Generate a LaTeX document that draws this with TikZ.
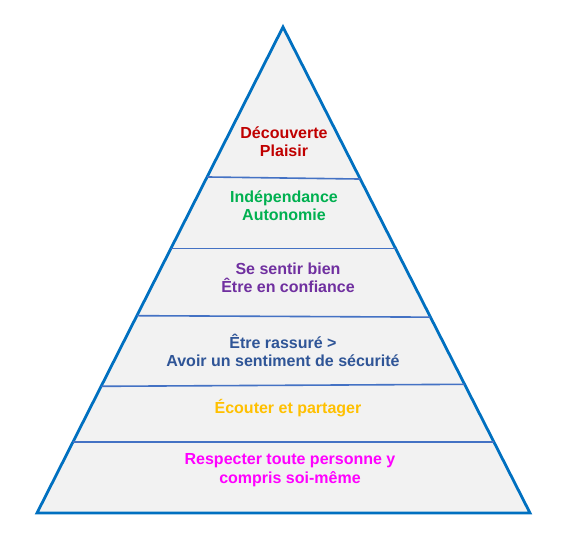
\documentclass[tikz,border=0pt]{standalone}
\usepackage{fontspec}
\setmainfont{Liberation Sans}
\usepackage{tikz}
\usetikzlibrary{calc}
\definecolor{pyrline}{HTML}{0070C0}
\definecolor{stepline}{HTML}{4472C4}
\definecolor{pyrfill}{HTML}{F2F2F2}
\definecolor{txtred}{HTML}{C00000}
\definecolor{txtgreen}{HTML}{00B050}
\definecolor{txtpurple}{HTML}{7030A0}
\definecolor{txtblue}{HTML}{2F5597}
\definecolor{txtyellow}{HTML}{FFC000}
\definecolor{txtmagenta}{HTML}{FF00FF}

\begin{document}
\begin{tikzpicture}[
  x=1pt, y=-1pt,
  level text/.style={align=center, inner sep=0pt,
                     font=\fontsize{16}{18.4}\selectfont\bfseries},
  divider/.style={stepline, line width=1.6pt},
]
\useasboundingbox (0,0) rectangle (576,547);

% === Outline of the pyramid ===
\coordinate (top) at (283,27);
\coordinate (bl) at (37,513);
\coordinate (br) at (530,513);
\filldraw[fill=pyrfill, draw=pyrline, line width=2.8pt, line join=miter]
  (top) -- (br) -- (bl) -- cycle;

% === Dividers between levels ===
\coordinate (d1l) at ($(top)!0.3086!(bl)$);
\coordinate (d1r) at ($(top)!0.3128!(br)$);
\coordinate (d2l) at ($(top)!0.456!(bl)$);
\coordinate (d2r) at ($(top)!0.456!(br)$);
\coordinate (d3l) at ($(top)!0.594!(bl)$);
\coordinate (d3r) at ($(top)!0.597!(br)$);
\coordinate (d4l) at ($(top)!0.7393!(bl)$);
\coordinate (d4r) at ($(top)!0.7352!(br)$);
\coordinate (d5l) at ($(top)!0.854!(bl)$);
\coordinate (d5r) at ($(top)!0.854!(br)$);
\foreach \i in {1,...,5} {
  \draw[divider] (d\i l) -- (d\i r);
}

% === Level labels ===
\node[level text, text=txtred] (discover) at (284,142)
  {Découverte\\Plaisir};
\node[level text, text=txtgreen] (autonomy) at (284,205.5)
  {Indépendance\\Autonomie};
\node[level text, text=txtpurple] (wellbeing) at (288,277.5)
  {Se sentir bien\\Être en confiance};
\node[level text, text=txtblue] (safety) at (283,350.5)
  {Être rassuré >\\Avoir un sentiment de sécurité};
\node[level text, text=txtyellow] (listen) at (288,408)
  {Écouter et partager};
\node[level text, text=txtmagenta] (respect) at (290,470)
  {Respecter toute personne y\\compris soi-même};

\end{tikzpicture}
\end{document}
